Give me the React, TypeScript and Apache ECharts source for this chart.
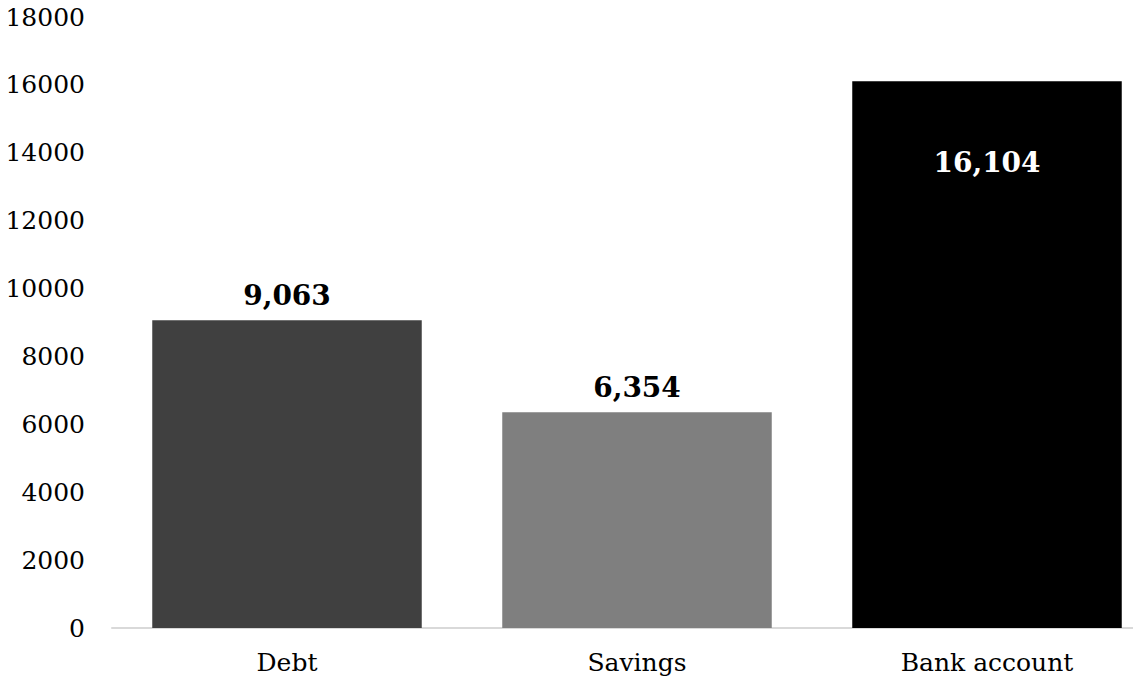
import React, { useEffect, useRef } from "react";
import * as echarts from "echarts";

const categories = ["Debt", "Savings", "Bank account"];
const values = [9063, 6354, 16104];
const barColors = ["#404040", "#7f7f7f", "#000000"];
const labelColors = ["#000000", "#000000", "#ffffff"];
const labelPositions = ["top", "top", "insideTop"];

const FONT = "Georgia, 'DejaVu Serif', serif";

export default function App() {
  const ref = useRef<HTMLDivElement>(null);

  useEffect(() => {
    document.body.style.margin = "0";
    const chart = echarts.init(ref.current!, null, { renderer: "svg" });
    chart.setOption({
      animation: false,
      backgroundColor: "#ffffff",
      // the plot area runs past the right edge of the canvas
      grid: {
        left: 112,
        width: 1050,
        top: 17,
        bottom: 50,
        containLabel: false,
        outerBoundsMode: "none",
      },
      xAxis: {
        type: "category",
        data: categories,
        axisLine: { show: true, lineStyle: { color: "#d9d9d9", width: 2 } },
        axisTick: { show: false },
        axisLabel: {
          color: "#000000",
          fontFamily: FONT,
          fontSize: 25,
          margin: 22,
        },
      },
      yAxis: {
        type: "value",
        min: 0,
        max: 18000,
        interval: 2000,
        splitLine: { show: false },
        axisLine: { show: false },
        axisTick: { show: false },
        axisLabel: {
          color: "#000000",
          fontFamily: FONT,
          fontSize: 25,
          margin: 27,
          formatter: (v: number) => String(v),
        },
      },
      series: [
        {
          type: "bar",
          barWidth: "77%",
          data: values.map((v, i) => ({
            value: v,
            itemStyle: { color: barColors[i] },
            label: {
              show: true,
              position: labelPositions[i],
              distance: labelPositions[i] === "top" ? 11 : 67,
              color: labelColors[i],
              fontFamily: FONT,
              fontSize: 28,
              fontWeight: "bold",
              formatter: (p: any) => Number(p.value).toLocaleString("en-US"),
            },
          })),
        },
      ],
    });
    return () => chart.dispose();
  }, []);

  return <div ref={ref} style={{ width: 1133, height: 678 }} />;
}
